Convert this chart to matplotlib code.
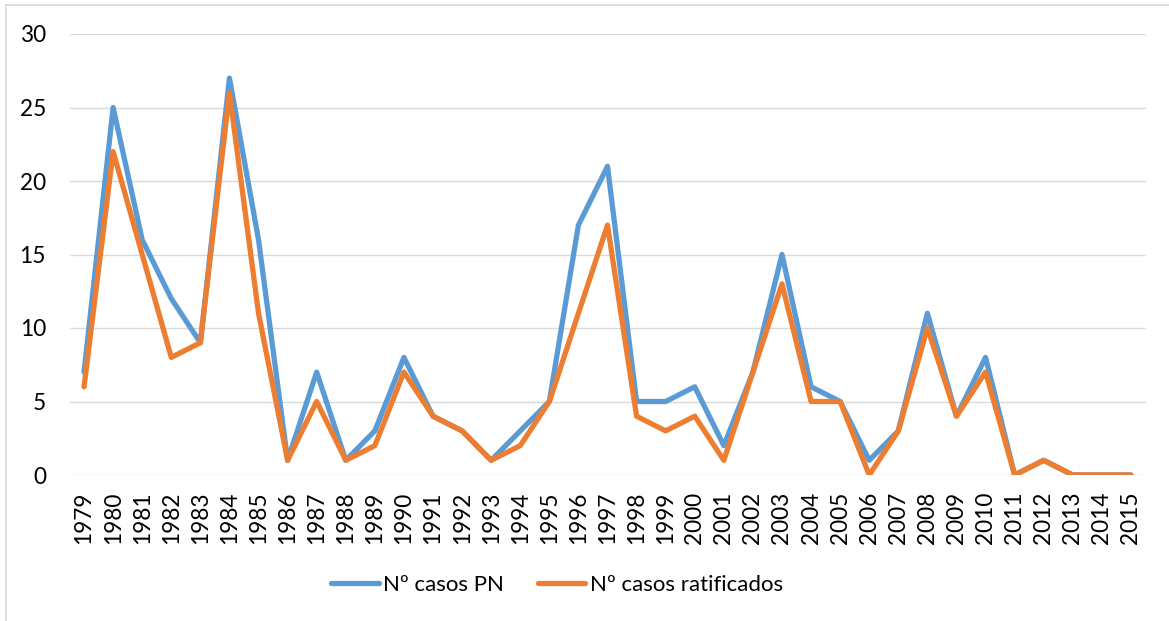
import matplotlib.pyplot as plt
from matplotlib.lines import Line2D

years = [str(y) for y in range(1979, 2016)]
casos_pn = [7, 25, 16, 12, 9, 27, 16, 1, 7, 1, 3, 8, 4, 3, 1, 3, 5, 17, 21, 5,
            5, 6, 2, 7, 15, 6, 5, 1, 3, 11, 4, 8, 0, 1, 0, 0, 0]
casos_ratif = [6, 22, 15, 8, 9, 26, 11, 1, 5, 1, 2, 7, 4, 3, 1, 2, 5, 11, 17, 4,
               3, 4, 1, 7, 13, 5, 5, 0, 3, 10, 4, 7, 0, 1, 0, 0, 0]
y_ticks = [0, 5, 10, 15, 20, 25, 30]

plt.rcParams['font.family'] = ['Lato', 'DejaVu Sans']

W, H = 1169, 621
fig = plt.figure(figsize=(W / 100, H / 100), dpi=100)
ax = fig.add_axes([69.5 / W, 1 - 475 / H, (1145.5 - 69.5) / W, (475 - 34) / H])

x = list(range(len(years)))
ax.plot(x, casos_pn, color='#5B9BD5', lw=3.8, solid_joinstyle='round',
        solid_capstyle='round', label='Nº casos PN', zorder=3)
ax.plot(x, casos_ratif, color='#ED7D31', lw=3.8, solid_joinstyle='round',
        solid_capstyle='round', label='Nº casos ratificados', zorder=4)

ax.set_xlim(-0.5, len(years) - 0.5)
ax.set_ylim(0, 30)
ax.set_yticks(y_ticks)
ax.set_xticks(x)
ax.set_xticklabels(years, rotation=90)
ax.tick_params(axis='y', length=0, pad=17, labelsize=16.3, colors='#000000')
ax.tick_params(axis='x', length=0, pad=12, labelsize=16.3, colors='#000000')
ax.grid(axis='y', color='#D9D9D9', lw=1.0)
ax.set_axisbelow(True)
for s in ax.spines.values():
    s.set_visible(False)

leg = fig.legend(loc='center', bbox_to_anchor=(557 / W, 1 - 585 / H), ncol=2,
                 frameon=False, fontsize=16, handlelength=2.15,
                 handletextpad=0.2, columnspacing=1.5)

# chart area border (only top/left visible in the reference)
fig.add_artist(Line2D([6 / W, 1], [1 - 5 / H, 1 - 5 / H], transform=fig.transFigure,
                      color='#D9D9D9', lw=1.2))
fig.add_artist(Line2D([6 / W, 6 / W], [0, 1 - 5 / H], transform=fig.transFigure,
                      color='#D9D9D9', lw=1.2))

fig.savefig('out.png', dpi=100)
